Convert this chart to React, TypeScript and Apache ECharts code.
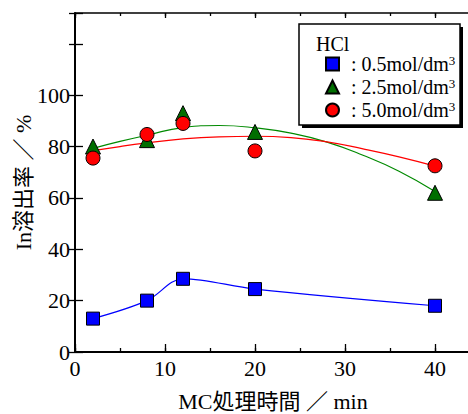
import React, { useEffect, useRef } from "react";
import * as echarts from "echarts";

const times = [2, 8, 12, 20, 40];
const hcl05 = [13, 20, 28.5, 24.5, 18];
const hcl25 = [80, 82.5, 93, 85.7, 62];
const hcl50 = [75.5, 84.7, 89, 78.3, 72.5];

const fitX = [2, 5, 8, 12, 16, 20, 24, 28, 32, 36, 40];
const fit25 = [79.3, 82, 84.4, 87.4, 88.2, 87.3, 85.2, 81.7, 76.6, 70.4, 62.5];
const fit50 = [78.4, 80, 81.4, 83, 83.8, 84, 83.5, 81.8, 79.1, 76, 72.4];

const legendNames = [": 0.5mol/dm", ": 2.5mol/dm", ": 5.0mol/dm"];
const yLabels = [0, 20, 40, 60, 80, 100];

const FONT = "'Liberation Serif', 'Noto Sans CJK JP', serif";

export default function App() {
  const ref = useRef<HTMLDivElement>(null);
  useEffect(() => {
    document.body.style.margin = "0";
    const chart = echarts.init(ref.current!, undefined, { renderer: "svg" });
    const pairs = (xs: number[], ys: number[]) => xs.map((x, i) => [x, ys[i]]);
    const axisText = { fontFamily: FONT, fontSize: 22, color: "#000" };
    chart.setOption({
      animation: false,
      backgroundColor: "#fff",
      textStyle: { fontFamily: FONT },
      grid: { left: 75, width: 396, top: 13, height: 339, containLabel: false, outerBoundsMode: "none" },
      legend: {
        orient: "vertical",
        left: 320,
        top: 49,
        z: 200,
        itemWidth: 13,
        itemHeight: 13,
        itemGap: 0,
        data: [
          { name: legendNames[0], icon: "rect" },
          { name: legendNames[1], icon: "triangle" },
          { name: legendNames[2], icon: "circle" },
        ],
        formatter: (n: string) => `{a|${n}}{s|3}`,
        textStyle: {
          fontFamily: FONT,
          rich: {
            a: { fontFamily: FONT, fontSize: 20, color: "#000", lineHeight: 20, padding: [0, 0, 0, 7] },
            s: { fontFamily: FONT, fontSize: 13, color: "#000", verticalAlign: "top", lineHeight: 20, padding: [0, 0, 10, 0] },
          },
        },
      },
      graphic: [
        { type: "rect", shape: { x: 302, y: 27, width: 161, height: 101 }, style: { fill: "#000" }, z: 10 },
        { type: "rect", shape: { x: 299, y: 24, width: 161, height: 101 }, style: { fill: "#fff", stroke: "#000", lineWidth: 1.5 }, z: 11 },
        { type: "text", x: 316, y: 34, style: { text: "HCl", font: `20px ${FONT}`, fill: "#000" }, z: 12 },
      ],
      xAxis: [
        {
          type: "value", min: 0, max: 44, interval: 10, position: "bottom",
          name: "MC処理時間 ／ min", nameLocation: "middle", nameGap: 38, nameMoveOverlap: false,
          nameTextStyle: axisText,
          axisLine: { lineStyle: { color: "#000", width: 2 } },
          axisTick: { inside: true, length: 8, lineStyle: { color: "#000", width: 1.3 } },
          axisLabel: { ...axisText, margin: 5, showMaxLabel: false, formatter: (v: number) => (v <= 40 ? String(v) : "") },
          splitLine: { show: false },
        },
        {
          type: "value", min: 0, max: 44, interval: 5, position: "bottom",
          axisLine: { show: false },
          axisTick: { inside: true, length: 4, lineStyle: { color: "#000", width: 1.3 } },
          axisLabel: { show: false }, splitLine: { show: false },
        },
        {
          type: "value", min: 0, max: 44, interval: 10, position: "top",
          axisLine: { lineStyle: { color: "#000", width: 1.5 } },
          axisTick: { inside: true, length: 5, lineStyle: { color: "#000", width: 1.3 } },
          axisLabel: { show: false }, splitLine: { show: false },
        },
        {
          type: "value", min: 0, max: 44, interval: 5, position: "top",
          axisLine: { show: false },
          axisTick: { inside: true, length: 3, lineStyle: { color: "#000", width: 1.3 } },
          axisLabel: { show: false }, splitLine: { show: false },
        },
      ],
      yAxis: [
        {
          type: "value", min: 0, max: 132, interval: 20, position: "left",
          name: "In溶出率 ／ %", nameLocation: "middle", nameGap: 41, nameMoveOverlap: false,
          nameTextStyle: axisText,
          axisLine: { lineStyle: { color: "#000", width: 2 } },
          axisTick: { inside: true, length: 8, lineStyle: { color: "#000", width: 1.3 } },
          axisLabel: { ...axisText, margin: 5, formatter: (v: number) => (yLabels.indexOf(v) >= 0 ? String(v) : "") },
          splitLine: { show: false },
        },
        {
          type: "value", min: 0, max: 132, interval: 20, position: "right",
          axisLine: { show: false },
          axisTick: { inside: true, length: 6, lineStyle: { color: "#000", width: 1.3 } },
          axisLabel: { show: false }, splitLine: { show: false },
        },
      ],
      series: [
        {
          type: "line", name: "fit05", data: pairs(times, hcl05), smooth: 0.35, showSymbol: false,
          lineStyle: { color: "#0000ff", width: 1.2 }, z: 2,
        },
        {
          type: "line", name: "fit25", data: pairs(fitX, fit25), smooth: 0.5, showSymbol: false,
          lineStyle: { color: "#008a00", width: 1.2 }, z: 2,
        },
        {
          type: "line", name: "fit50", data: pairs(fitX, fit50), smooth: 0.5, showSymbol: false,
          lineStyle: { color: "#ff0000", width: 1.2 }, z: 2,
        },
        {
          type: "scatter", name: legendNames[0], data: pairs(times, hcl05), symbol: "rect", symbolSize: 13,
          itemStyle: { color: "#0000ff", borderColor: "#000", borderWidth: 1, opacity: 1 }, z: 3,
        },
        {
          type: "scatter", name: legendNames[1], data: pairs(times, hcl25), symbol: "triangle", symbolSize: 15,
          itemStyle: { color: "#006e00", borderColor: "#000", borderWidth: 1, opacity: 1 }, z: 4,
        },
        {
          type: "scatter", name: legendNames[2], data: pairs(times, hcl50), symbol: "circle", symbolSize: 14,
          itemStyle: { color: "#ff0000", borderColor: "#000", borderWidth: 1, opacity: 1 }, z: 5,
        },
      ],
    });
    return () => chart.dispose();
  }, []);
  return <div ref={ref} style={{ width: 468, height: 414 }} />;
}
